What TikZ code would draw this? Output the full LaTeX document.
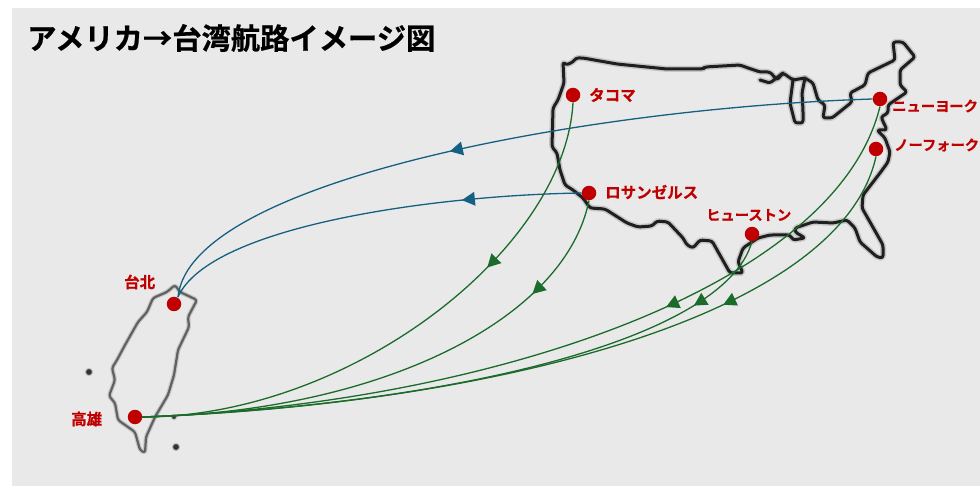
\documentclass[tikz,border=0pt]{standalone}
\usepackage{fontspec}
\setmainfont{Noto Sans CJK JP}[BoldFont={Noto Sans CJK JP Bold},BoldFeatures={FakeBold=0.6}]
\usetikzlibrary{arrows.meta,decorations.markings}
\definecolor{bgc}{HTML}{E9E9E9}
\definecolor{portred}{HTML}{C00000}
\definecolor{routeblue}{HTML}{156082}
\definecolor{routegreen}{HTML}{1B6B2A}
\tikzset{
  x=1pt,y=-1pt,
  port/.style={circle,fill=portred,minimum size=14.5pt,inner sep=0pt},
  portlabel/.style={text=portred,font=\bfseries\fontsize{15.5}{16}\selectfont,inner sep=0pt},
  smalllabel/.style={text=portred,font=\bfseries\fontsize{14.3}{16}\selectfont,inner sep=0pt},
  halo/.style={draw=black,opacity=.15,line width=6pt,line join=round,line cap=round,rounded corners=2.5pt},
  coast/.style={draw=black!88,line width=3pt,line join=round,line cap=round,rounded corners=2.5pt},
  halot/.style={draw=black,opacity=.15,line width=4.5pt,line join=round,line cap=round,rounded corners=2.5pt},
  coastt/.style={draw=black!62,line width=2.2pt,line join=round,line cap=round,rounded corners=2.5pt},
  islet/.style={fill=black!80,draw=black!25,line width=1pt},
  route/.style={line width=1.3pt},
  midarrow/.style={postaction={decorate},decoration={markings,mark=at position #1 with {\arrow[line width=0pt]{Triangle[width=14pt,length=13pt]}}}}
}
\def\usmain{(563,62) -- (566,65) -- (573,62) -- (576,58) -- (583,58) -- (617,64) -- (667,69) -- (703,69) -- (705,67) -- (740,65) -- (748,68) -- (760,72) -- (770,72) -- (777,80) -- (783,73) -- (793,80) -- (805,78) -- (813,83) -- (818,100) -- (825,105) -- (823,118) -- (832,118) -- (852,102) -- (850,93) -- (865,85) -- (868,73) -- (895,60) -- (893,42) -- (903,42) -- (915,57) -- (900,70) -- (900,85) -- (907,92) -- (888,105) -- (888,113) -- (881,117) -- (887,130) -- (877,130) -- (885,138) -- (890,152) -- (888,162) -- (880,173) -- (863,195) -- (862,208) -- (883,245) -- (883,258) -- (877,257) -- (860,242) -- (855,228) -- (847,220) -- (833,223) -- (813,222) -- (795,228) -- (795,232) -- (805,238) -- (793,240) -- (790,235) -- (770,235) -- (758,238) -- (743,248) -- (738,262) -- (743,273) -- (730,273) -- (712,241) -- (700,240) -- (693,248) -- (687,245) -- (683,238) -- (668,222) -- (657,221) -- (652,226) -- (638,227) -- (627,223) -- (605,209) -- (590,208) -- (583,198) -- (573,190) -- (565,185) -- (560,170) -- (557,153) -- (552,147) -- (553,108) -- (558,100) -- (564,83) -- cycle}
\def\uslake{(793,80) -- (790,103) -- (795,123) -- (803,123) -- (803,110) -- (802,93) -- (805,78)}
\def\uslakeb{(760,80) -- (770,83) -- (783,73)}
\def\taiwan{(175,285) -- (167,292) -- (153,298) -- (147,312) -- (138,322) -- (125,345) -- (117,360) -- (112,368) -- (115,380) -- (109,396) -- (115,403) -- (118,420) -- (135,432) -- (140,450) -- (145,453) -- (146,437) -- (155,417) -- (168,395) -- (174,375) -- (178,350) -- (189,327) -- (188,317) -- (197,300) -- (180,292) -- cycle}
\begin{document}
\begin{tikzpicture}
\useasboundingbox (0,0) rectangle (980,486);
\fill[bgc] (12,8) rectangle (980,486);
% maps
\draw[halo] \usmain; \draw[halo] \uslake; \draw[halo] \uslakeb;
\draw[coast] \usmain; \draw[coast] \uslake; \draw[coast] \uslakeb;
\draw[halot] \taiwan;
\draw[coastt] \taiwan;
\path[islet] (89,372) circle (3.6pt) (176,447) circle (3.6pt) (174,417) circle (2.6pt);
% title
\node[anchor=west,inner sep=0pt,font=\bfseries\fontsize{29.3}{32}\selectfont] (title) at (27,38) {アメリカ→台湾航路イメージ図};
% ports
\node[port] (ny) at (880,99) {};
\node[port] (nf) at (876,149) {};
\node[port] (tc) at (573,95) {};
\node[port] (la) at (589,193) {};
\node[port] (hu) at (752,234) {};
\node[port] (tp) at (174,304) {};
\node[port] (kh) at (135,417) {};
\coordinate (tptop) at (178,297);
\coordinate (khr) at (142,417);
% routes
\draw[route,routeblue,midarrow=.57] (ny.west) .. controls (590,108) and (190,180) .. (tptop);
\draw[route,routeblue,midarrow=.28] (la.west) .. controls (440,195) and (210,225) .. (tptop);
\draw[route,routegreen,midarrow=.33] (tc.south) .. controls (565,250) and (350,417) .. (khr);
\draw[route,routegreen,midarrow=.21] (la.south) .. controls (565,320) and (380,412) .. (khr);
\draw[route,routegreen,midarrow=.36] (ny.south) .. controls (835,290) and (480,405) .. (khr);
\draw[route,routegreen,midarrow=.27] (nf.south) .. controls (840,320) and (480,405) .. (khr);
\draw[route,routegreen,midarrow=.135] (hu.south) .. controls (725,340) and (450,405) .. (khr);
% labels
\node[portlabel,anchor=west] (ltc) at (589,95) {タコマ};
\node[smalllabel,anchor=west] (lny) at (892,106) {ニューヨーク};
\node[smalllabel,anchor=west] (lnf) at (894,145) {ノーフォーク};
\node[portlabel,anchor=west] (lla) at (605,192) {ロサンゼルス};
\node[smalllabel,anchor=west] (lhu) at (706,215) {ヒューストン};
\node[portlabel,anchor=west] (ltp) at (124,282) {台北};
\node[portlabel,anchor=west] (lkh) at (71,419) {高雄};
\end{tikzpicture}
\end{document}
